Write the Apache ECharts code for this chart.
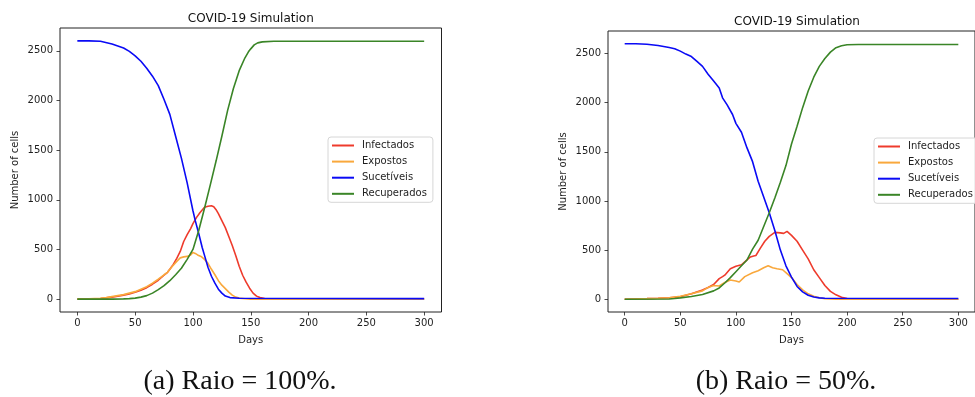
<!DOCTYPE html>
<html>
<head>
<meta charset="utf-8">
<script src="https://cdn.jsdelivr.net/npm/echarts@6/dist/echarts.min.js"></script>
<style>
html,body{margin:0;padding:0;background:#fff;}
#chart{width:975px;height:397px;}
</style>
</head>
<body>
<div id="chart"></div>
<script>
// ---------- Data: (a) Raio = 100% ----------
const A_inf_days = [0,10,20,25,30,35,40,45,50,55,60,65,70,75,78,80,83,86,89,92,95,98,100,103,106,110,113,116,118,120,122,125,128,131,134,137,140,143,146,149,152,155,158,162,170,300];
const A_inf      = [0,2,6,12,20,28,40,52,68,90,115,150,190,240,270,300,350,410,480,580,650,710,760,820,870,925,935,940,930,900,860,790,720,630,540,440,330,240,170,110,60,30,15,5,0,0];
const A_exp_days = [0,10,20,25,30,35,40,45,50,55,60,65,70,75,78,80,83,86,89,92,95,98,100,102,104,107,110,113,116,119,122,125,128,131,134,137,140,145,150,300];
const A_exp      = [0,2,8,15,25,35,45,60,75,100,125,160,200,245,270,300,340,380,415,425,430,445,470,460,445,430,400,360,300,245,185,140,105,70,40,20,10,3,0,0];
const A_sus_days = [0,10,20,30,40,45,50,55,60,65,70,75,80,85,90,95,100,102,105,108,110,113,116,119,122,125,128,132,140,300];
const A_sus      = [2600,2600,2596,2568,2528,2495,2450,2395,2325,2245,2150,2010,1860,1640,1420,1170,890,790,660,520,440,320,230,160,100,60,30,15,8,5];
const A_rec_days = [0,30,40,45,50,55,60,65,70,75,80,85,90,95,100,105,110,115,120,125,130,135,140,145,148,150,153,156,160,170,300];
const A_rec      = [0,0,2,5,10,20,35,60,95,135,185,245,310,400,500,690,915,1150,1390,1640,1900,2120,2300,2430,2490,2520,2560,2580,2590,2597,2597];

// ---------- Data: (b) Raio = 50% ----------
const B_inf_days = [0,10,20,30,40,50,60,70,75,80,85,88,90,95,100,105,110,113,116,118,122,126,130,135,140,143,146,148,150,155,160,165,170,175,180,185,190,195,200,205,300];
const B_inf      = [0,3,6,10,15,25,55,95,120,150,210,230,245,310,335,350,400,430,440,445,520,590,640,680,675,670,690,670,650,590,500,410,300,220,140,80,45,20,8,0,0];
const B_exp_days = [0,10,20,30,40,50,60,70,75,80,85,90,95,100,103,108,115,120,125,129,133,137,142,146,150,155,160,165,170,175,180,190,300];
const B_exp      = [0,3,6,10,15,30,55,85,120,140,135,170,195,185,175,230,270,290,320,340,320,310,300,260,220,150,95,55,30,15,5,0,0];
const B_sus_days = [0,10,20,30,40,45,50,55,60,65,70,75,80,85,88,92,97,100,105,110,115,120,125,130,135,140,145,150,155,160,165,170,175,180,300];
const B_sus      = [2600,2600,2595,2582,2562,2550,2525,2495,2470,2420,2370,2290,2220,2150,2050,1980,1880,1790,1700,1540,1400,1200,1040,880,700,500,340,225,130,75,40,22,14,10,8];
const B_rec_days = [0,40,45,50,60,70,80,85,90,95,100,105,110,115,120,125,130,135,140,145,150,155,160,165,170,175,180,185,190,195,200,210,300];
const B_rec      = [0,3,8,14,28,48,85,115,165,220,280,340,400,510,600,740,880,1030,1190,1360,1580,1760,1950,2120,2260,2370,2450,2515,2560,2580,2590,2592,2592];

// ---------- Labels ----------
const seriesNames = ['Infectados', 'Expostos', 'Sucetíveis', 'Recuperados'];
const xTicks = [0, 50, 100, 150, 200, 250, 300];
const yTicks = [0, 500, 1000, 1500, 2000, 2500];
const titleText = 'COVID-19 Simulation';
const xName = 'Days';
const yName = 'Number of cells';
const captions = ['(a) Raio = 100%.', '(b) Raio = 50%.'];

// ---------- Build ----------
const colors = ['#ee3b2c', '#f9a83c', '#0a0af5', '#3a8527'];
const FONT = 'DejaVu Sans';
const TXT = '#1e1e1e';

function zip(xs, ys) { return xs.map((x, i) => [x, ys[i]]); }

const chartData = [
  [zip(A_inf_days, A_inf), zip(A_exp_days, A_exp), zip(A_sus_days, A_sus), zip(A_rec_days, A_rec)],
  [zip(B_inf_days, B_inf), zip(B_exp_days, B_exp), zip(B_sus_days, B_sus), zip(B_rec_days, B_rec)]
];

const grids = [
  {left: 60, top: 28, width: 381.5, height: 284},
  {left: 608, top: 31, width: 378.5, height: 281}
];

function xAxisFor(i) {
  return {
    gridIndex: i, type: 'value', min: -15, max: 315,
    axisLine: {show: false, onZero: false},
    splitLine: {show: false},
    axisTick: {show: true, inside: false, customValues: xTicks, length: 3.5, lineStyle: {color: TXT, width: 0.8}},
    axisLabel: {customValues: xTicks, fontSize: 10, color: TXT, fontFamily: FONT, margin: 6,
                formatter: v => String(v)},
    name: xName, nameLocation: 'middle', nameGap: 23,
    nameTextStyle: {fontSize: 10, color: TXT, fontFamily: FONT}
  };
}
function yAxisFor(i) {
  return {
    gridIndex: i, type: 'value', min: -130, max: 2730,
    axisLine: {show: false, onZero: false},
    splitLine: {show: false},
    axisTick: {show: true, inside: false, customValues: yTicks, length: 3.5, lineStyle: {color: TXT, width: 0.8}},
    axisLabel: {customValues: yTicks, fontSize: 10, color: TXT, fontFamily: FONT, margin: 7,
                formatter: v => String(v)},
    name: yName, nameLocation: 'middle', nameGap: 40, nameRotate: 90,
    nameTextStyle: {fontSize: 10, color: TXT, fontFamily: FONT}
  };
}

const series = [];
chartData.forEach((set, gi) => {
  set.forEach((d, si) => {
    series.push({
      name: seriesNames[si], type: 'line', xAxisIndex: gi, yAxisIndex: gi,
      data: d, symbol: 'none', showSymbol: false, silent: true,
      lineStyle: {color: colors[si], width: 1.6},
      itemStyle: {color: colors[si]}
    });
  });
});

function legendFor(left, top) {
  return {
    orient: 'vertical', left: left, top: top,
    icon: 'rect',
    itemWidth: 22, itemHeight: 2, itemGap: 2.1,
    padding: [1.5, 6, 1.5, 4],
    borderColor: '#d6d6d6', borderWidth: 1, borderRadius: 3,
    backgroundColor: 'rgba(255,255,255,0.85)',
    selectedMode: false,
    textStyle: {fontSize: 10, lineHeight: 14, color: TXT, fontFamily: FONT, padding: [0, 0, 0, 3]},
    data: seriesNames
  };
}

const option = {
  animation: false,
  backgroundColor: '#fff',
  title: [
    {text: titleText, left: 250.8, top: 12.5, textAlign: 'center', padding: 0,
     textStyle: {fontSize: 12, fontWeight: 'normal', color: '#111', fontFamily: FONT}},
    {text: titleText, left: 797, top: 15.5, textAlign: 'center', padding: 0,
     textStyle: {fontSize: 12, fontWeight: 'normal', color: '#111', fontFamily: FONT}}
  ],
  grid: grids.map(g => Object.assign({show: true, borderColor: '#222', borderWidth: 1, backgroundColor: 'transparent'}, g)),
  xAxis: [xAxisFor(0), xAxisFor(1)],
  yAxis: [yAxisFor(0), yAxisFor(1)],
  legend: [legendFor(328, 137), legendFor(874, 138)],
  series: series,
  graphic: [
    {type: 'text', x: 240, y: 381.5, style: {text: captions[0], font: '28px "Liberation Serif"', fill: '#111', align: 'center', verticalAlign: 'middle'}},
    {type: 'text', x: 786, y: 381.5, style: {text: captions[1], font: '28px "Liberation Serif"', fill: '#111', align: 'center', verticalAlign: 'middle'}}
  ]
};

const chart = echarts.init(document.getElementById('chart'), null, {renderer: 'canvas'});
chart.setOption(option);
</script>
</body>
</html>
